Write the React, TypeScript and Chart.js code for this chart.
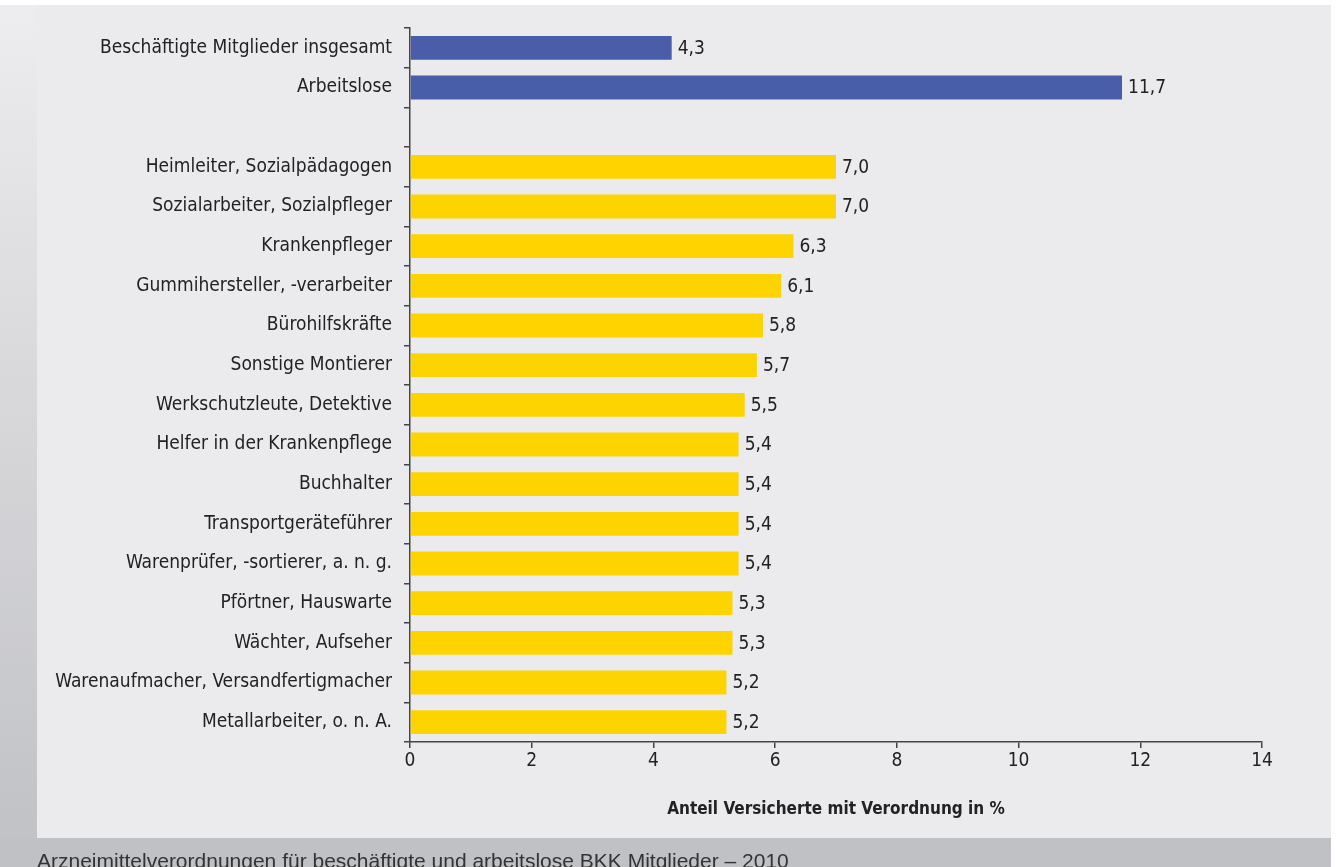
import React, { useEffect, useRef } from "react";
import { Chart, registerables } from "chart.js";

Chart.register(...registerables);

const categories: string[] = [
  "Beschäftigte Mitglieder insgesamt",
  "Arbeitslose",
  "",
  "Heimleiter, Sozialpädagogen",
  "Sozialarbeiter, Sozialpfleger",
  "Krankenpfleger",
  "Gummihersteller, -verarbeiter",
  "Bürohilfskräfte",
  "Sonstige Montierer",
  "Werkschutzleute, Detektive",
  "Helfer in der Krankenpflege",
  "Buchhalter",
  "Transportgeräteführer",
  "Warenprüfer, -sortierer, a. n. g.",
  "Pförtner, Hauswarte",
  "Wächter, Aufseher",
  "Warenaufmacher, Versandfertigmacher",
  "Metallarbeiter, o. n. A.",
];

const values: (number | null)[] = [
  4.3, 11.7, null, 7.0, 7.0, 6.3, 6.1, 5.8, 5.7, 5.5, 5.4, 5.4, 5.4, 5.4, 5.3, 5.3, 5.2, 5.2,
];

// group of each row: "overall" rows are blue, occupation rows are yellow
const groups: string[] = [
  "overall", "overall", "none",
  "job", "job", "job", "job", "job", "job", "job", "job",
  "job", "job", "job", "job", "job", "job", "job",
];

const xMin = 0;
const xMax = 14;
const xStep = 2;
const axisTitle = "Anteil Versicherte mit Verordnung in %";
const caption = "Arzneimittelverordnungen für beschäftigte und arbeitslose BKK Mitglieder – 2010";

const BLUE = "#4a5da8";
const YELLOW = "#fdd400";
const TEXT = "#222222";
const AXIS = "#444444";
const FONT = "'DejaVu Sans Condensed', 'Liberation Sans Narrow', sans-serif";

const valueLabelPlugin = {
  id: "valueLabels",
  afterDatasetsDraw(chart: any) {
    const ctx = chart.ctx;
    const meta = chart.getDatasetMeta(0);
    ctx.save();
    ctx.font = `19px ${FONT}`;
    ctx.fillStyle = TEXT;
    ctx.textAlign = "left";
    ctx.textBaseline = "middle";
    meta.data.forEach((el: any, i: number) => {
      const v = values[i];
      if (v === null || v === undefined) return;
      ctx.fillText(v.toFixed(1).replace(".", ","), el.x + 6, el.y + 1);
    });
    ctx.restore();
  },
};

export default function App() {
  const ref = useRef<HTMLCanvasElement | null>(null);

  useEffect(() => {
    if (!ref.current) return;
    const colors = groups.map((g) => (g === "overall" ? BLUE : YELLOW));
    const chart = new Chart(ref.current, {
      type: "bar",
      data: {
        labels: categories,
        datasets: [
          {
            data: values as any,
            backgroundColor: colors,
            borderWidth: 0,
            barPercentage: 0.6,
            categoryPercentage: 1,
          },
        ],
      },
      options: {
        indexAxis: "y",
        responsive: false,
        animation: false,
        devicePixelRatio: 1,
        layout: { padding: { top: 28, left: 0, right: 74, bottom: 0 } },
        plugins: {
          legend: { display: false },
          tooltip: { enabled: false },
        },
        scales: {
          x: {
            type: "linear",
            min: xMin,
            max: xMax,
            afterFit(scale: any) {
              scale.height = 125;
            },
            ticks: {
              stepSize: xStep,
              color: TEXT,
              padding: 2,
              font: { family: FONT, size: 19 },
              callback: (v: any) => String(v),
            },
            grid: {
              drawOnChartArea: false,
              drawTicks: true,
              tickLength: 6,
              color: AXIS,
              lineWidth: 1.5,
            },
            border: { display: true, color: AXIS, width: 1.5 },
            title: {
              display: true,
              text: axisTitle,
              color: TEXT,
              font: { family: FONT, size: 17, weight: "bold" },
              padding: { top: 0, bottom: 47 },
            },
          },
          y: {
            type: "category",
            afterFit(scale: any) {
              scale.width = 410;
            },
            ticks: {
              color: TEXT,
              padding: 12,
              font: { family: FONT, size: 19 },
              autoSkip: false,
            },
            grid: {
              offset: true,
              drawOnChartArea: false,
              drawTicks: true,
              tickLength: 6,
              color: AXIS,
              lineWidth: 1.5,
            },
            border: { display: true, color: AXIS, width: 1.5 },
          },
        },
      } as any,
      plugins: [valueLabelPlugin],
    });
    return () => chart.destroy();
  }, []);

  return (
    <div
      style={{
        position: "absolute",
        left: 0,
        top: 0,
        width: 1336,
        height: 867,
        overflow: "hidden",
        background: "#ffffff",
      }}
    >
      <div
        style={{
          position: "absolute",
          left: 0,
          top: 5,
          width: 1331,
          height: 862,
          background: "linear-gradient(to bottom, #ededef 0%, #d8d8db 45%, #c0c1c5 100%)",
        }}
      />
      <div
        style={{
          position: "absolute",
          left: 0,
          top: 838,
          width: 1331,
          height: 29,
          background: "#c0c1c5",
        }}
      />
      <div
        style={{
          position: "absolute",
          left: 37,
          top: 5,
          width: 1294,
          height: 833,
          background: "#ebebed",
        }}
      />
      <canvas
        ref={ref}
        width={1336}
        height={867}
        style={{ position: "absolute", left: 0, top: 0, width: 1336, height: 867 }}
      />
      <div
        style={{
          position: "absolute",
          left: 37,
          top: 850,
          whiteSpace: "nowrap",
          fontFamily: "'Liberation Sans', Arial, sans-serif",
          fontSize: 21,
          lineHeight: "21px",
          color: "#333333",
        }}
      >
        {caption}
      </div>
    </div>
  );
}
